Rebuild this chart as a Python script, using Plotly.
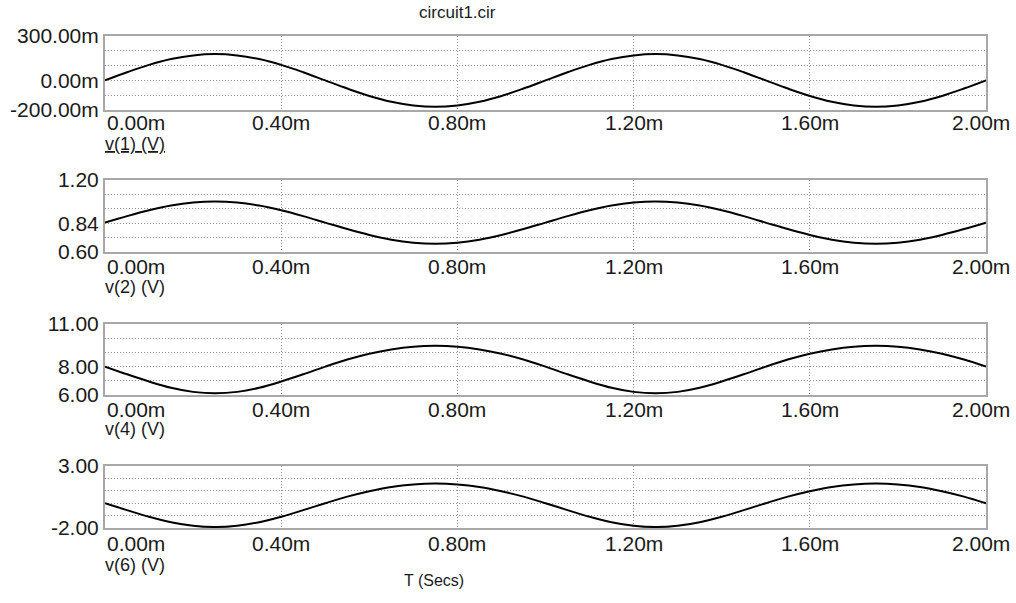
import plotly.graph_objects as go

# ---- data ----
t_ms = [round(i * 0.05, 2) for i in range(41)]

v1_half = [0.000, 0.055, 0.105, 0.144, 0.169, 0.178, 0.169, 0.144, 0.105, 0.055,
           0.000, -0.055, -0.105, -0.144, -0.169, -0.178, -0.169, -0.144, -0.105, -0.055]
v1 = v1_half + v1_half + [0.000]

v2_half = [0.845, 0.899, 0.948, 0.987, 1.012, 1.021, 1.012, 0.987, 0.948, 0.899,
           0.845, 0.791, 0.742, 0.703, 0.678, 0.669, 0.678, 0.703, 0.742, 0.791]
v2 = v2_half + v2_half + [0.845]

v4_half = [8.00, 7.46, 6.95, 6.51, 6.22, 6.12, 6.22, 6.51, 6.95, 7.46,
           8.00, 8.50, 8.91, 9.21, 9.40, 9.46, 9.40, 9.21, 8.91, 8.50]
v4 = v4_half + v4_half + [8.00]

v6_half = [0.00, -0.56, -1.09, -1.53, -1.82, -1.92, -1.82, -1.53, -1.09, -0.56,
           0.00, 0.53, 0.97, 1.31, 1.51, 1.58, 1.51, 1.31, 0.97, 0.53]
v6 = v6_half + v6_half + [0.00]

x_tick_vals = [0.0, 0.4, 0.8, 1.2, 1.6, 2.0]
x_tick_text = ["0.00m", "0.40m", "0.80m", "1.20m", "1.60m", "2.00m"]

panel_names = ["<u>v(1) (V)</u>", "v(2) (V)", "v(4) (V)", "v(6) (V)"]
series = [v1, v2, v4, v6]
y_ranges = [[-0.2, 0.3], [0.60, 1.20], [6.0, 11.0], [-2.0, 3.0]]
y_tick_vals = [[-0.2, 0.0, 0.3], [0.60, 0.84, 1.20], [6.0, 8.0, 11.0], [-2.0, 3.0]]
y_tick_text = [["-200.00m", "0.00m", "300.00m"], ["0.60", "0.84", "1.20"],
               ["6.00", "8.00", "11.00"], ["-2.00", "3.00"]]
y_grid_vals = [[-0.1, 0.1, 0.2], [0.72, 0.96, 1.08], [7.0, 9.0, 10.0], [-1.0, 0.0, 1.0, 2.0]]

# ---- layout geometry (pixels) ----
W, H = 1016, 603
panels_px = [(36, 110), (180, 252), (324, 395), (466, 528)]
xlab_y = [123, 266, 409, 543]
name_y = [144, 287, 429, 565]
x_left, x_right = 105, 986


def py(px):
    return 1 - px / H


def pxx(px):
    return px / W


FONT = "Liberation Sans, Arial, sans-serif"
TXT = "#1a1a1a"
GRID = "#8f8f8f"
BORDER = "#a8a8a8"
DASH = "1px,2px"

fig = go.Figure()
annotations = []
layout = {}

for i, (vals, (top, bot)) in enumerate(zip(series, panels_px)):
    n = "" if i == 0 else str(i + 1)
    fig.add_trace(go.Scatter(x=t_ms, y=vals, mode="lines",
                             line=dict(color="black", width=2, shape="spline"),
                             xaxis="x" + n, yaxis="y" + n, showlegend=False,
                             hoverinfo="skip"))
    layout["xaxis" + n] = dict(
        domain=[pxx(x_left), pxx(x_right)], range=[0, 2.0], anchor="y" + n,
        showline=True, mirror=True, linecolor=BORDER, linewidth=2,
        tickvals=[0.4, 0.8, 1.2, 1.6], showticklabels=False, ticks="",
        showgrid=True, gridcolor=GRID, gridwidth=1, griddash=DASH,
        zeroline=False, fixedrange=True, automargin=False)
    layout["yaxis" + n] = dict(
        domain=[py(bot), py(top)], range=y_ranges[i], anchor="x" + n,
        showline=True, mirror=True, linecolor=BORDER, linewidth=2,
        tickvals=y_tick_vals[i], ticktext=y_tick_text[i], ticks="",
        tickfont=dict(family=FONT, size=21, color=TXT),
        showgrid=True, gridcolor=GRID, gridwidth=1, griddash=DASH,
        minor=dict(tickvals=y_grid_vals[i], showgrid=True, gridcolor=GRID,
                   gridwidth=1, griddash=DASH, ticks=""),
        zeroline=False, fixedrange=True, automargin=False)
    # x tick labels
    for xv, xt in zip(x_tick_vals, x_tick_text):
        if xv == 0:
            ax = dict(x=xv, xref="x" + n, xanchor="left")
        elif xv == 2.0:
            ax = dict(x=pxx(1012), xref="paper", xanchor="right")
        else:
            ax = dict(x=xv, xref="x" + n, xanchor="center")
        annotations.append(dict(
            y=py(xlab_y[i]), yref="paper", text=xt, showarrow=False,
            yanchor="middle", font=dict(family=FONT, size=21, color=TXT), **ax))
    # panel signal label
    annotations.append(dict(
        x=pxx(x_left - 2), y=py(name_y[i]), xref="paper", yref="paper",
        text=panel_names[i], showarrow=False, xanchor="left", yanchor="middle",
        font=dict(family=FONT, size=18, color=TXT)))

annotations.append(dict(x=pxx(457), y=py(12), xref="paper", yref="paper",
                        text="circuit1.cir", showarrow=False, xanchor="center",
                        yanchor="middle", font=dict(family=FONT, size=17, color=TXT)))
annotations.append(dict(x=pxx(434), y=py(580), xref="paper", yref="paper",
                        text="T (Secs)", showarrow=False, xanchor="center",
                        yanchor="middle", font=dict(family=FONT, size=16, color=TXT)))

fig.update_layout(width=W, height=H, margin=dict(l=0, r=0, t=0, b=0),
                  paper_bgcolor="white", plot_bgcolor="white",
                  annotations=annotations, **layout)

fig.write_html("out.html",
               config={"displayModeBar": False, "staticPlot": True},
               post_script="document.body.style.margin='0px';"
                           "document.body.style.overflow='hidden';")
